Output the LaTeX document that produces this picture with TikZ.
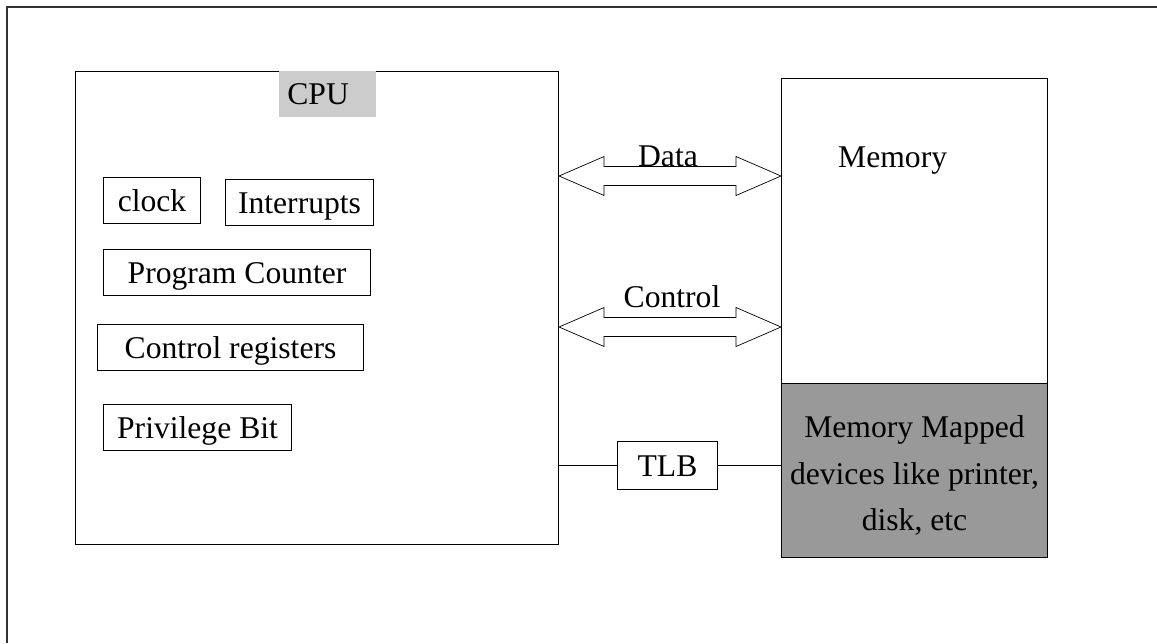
\documentclass[tikz,border=0pt]{standalone}
\usepackage{fontspec}
\setmainfont{Liberation Serif}
\usetikzlibrary{positioning,calc}

\tikzset{
  unit/.style={rectangle, draw, line width=0.6pt, inner sep=0pt, anchor=north west},
  reg/.style={rectangle, draw, line width=0.6pt, inner sep=0pt, minimum height=46*0.02cm,
              text height=14pt, text depth=2pt, anchor=north west},
  fat arrow/.style={line width=0.6pt, to path={
      -- ++(45,-19.5) -- ++(0,10) -- ([shift={(-45,-9.5)}]\tikztotarget) -- ++(0,-10)
      -- (\tikztotarget) -- ++(-45,19.5) -- ++(0,-10) -- ([shift={(45,9.5)}]\tikztostart)
      -- ++(0,10) -- cycle}},
}

\begin{document}
\begin{tikzpicture}[x=0.02cm, y=-0.02cm, font=\fontsize{18}{22}\selectfont]
  \useasboundingbox (0,0) rectangle (1157,643);
  % Frame
  \draw[line width=1pt, black!80] (7,643) -- (7,7) -- (1157,7);

  % CPU side
  \node[unit, minimum width=483*0.02cm, minimum height=473*0.02cm] (cpu) at (75,71) {};
  \node[anchor=north west, fill=black!20, inner xsep=8*0.02cm, text width=81*0.02cm,
        minimum height=46*0.02cm] (cpulbl) at (279,71) {CPU};
  \node[reg, minimum width=97*0.02cm] (clock) at (103,177) {clock};
  \node[reg, minimum width=148*0.02cm] (intr) at (225,179) {Interrupts};
  \node[reg, minimum width=267*0.02cm] (pc) at (103,249) {Program Counter};
  \node[reg, minimum width=266*0.02cm] (ctrlreg) at (97,324) {Control registers};
  \node[reg, minimum width=188*0.02cm] (priv) at (103,404) {Privilege Bit};

  % Memory side
  \node[unit, minimum width=266*0.02cm, minimum height=305*0.02cm] (mem) at (781,78) {};
  \node[anchor=west] (memlbl) at (832,161) {Memory};
  \node[unit, fill=black!40, minimum width=266*0.02cm, minimum height=174*0.02cm] (mmio) at (781,383) {};
  \node[align=center, font=\fontsize{18}{26.5}\selectfont] (mmiolbl) at ([yshift=-5*0.02cm]mmio.center)
    {Memory Mapped\\devices like printer,\\disk, etc};

  % Buses
  \coordinate (dataL) at (cpu.east |- 0,176);
  \coordinate (dataR) at (mem.west |- 0,176);
  \coordinate (ctrlL) at (cpu.east |- 0,327);
  \coordinate (ctrlR) at (mem.west |- 0,327);
  \draw (dataL) to[fat arrow] (dataR);
  \draw (ctrlL) to[fat arrow] (ctrlR);
  \node (datalbl) at (668,156) {Data};
  \node (ctrllbl) at (672,297) {Control};

  % TLB
  \node[reg, minimum width=100*0.02cm, minimum height=48*0.02cm] (tlb) at (617,441) {TLB};
  \draw[line width=0.6pt] (cpu.east |- tlb) -- (tlb.west);
  \draw[line width=0.6pt] (tlb.east) -- (mem.west |- tlb);
\end{tikzpicture}
\end{document}
